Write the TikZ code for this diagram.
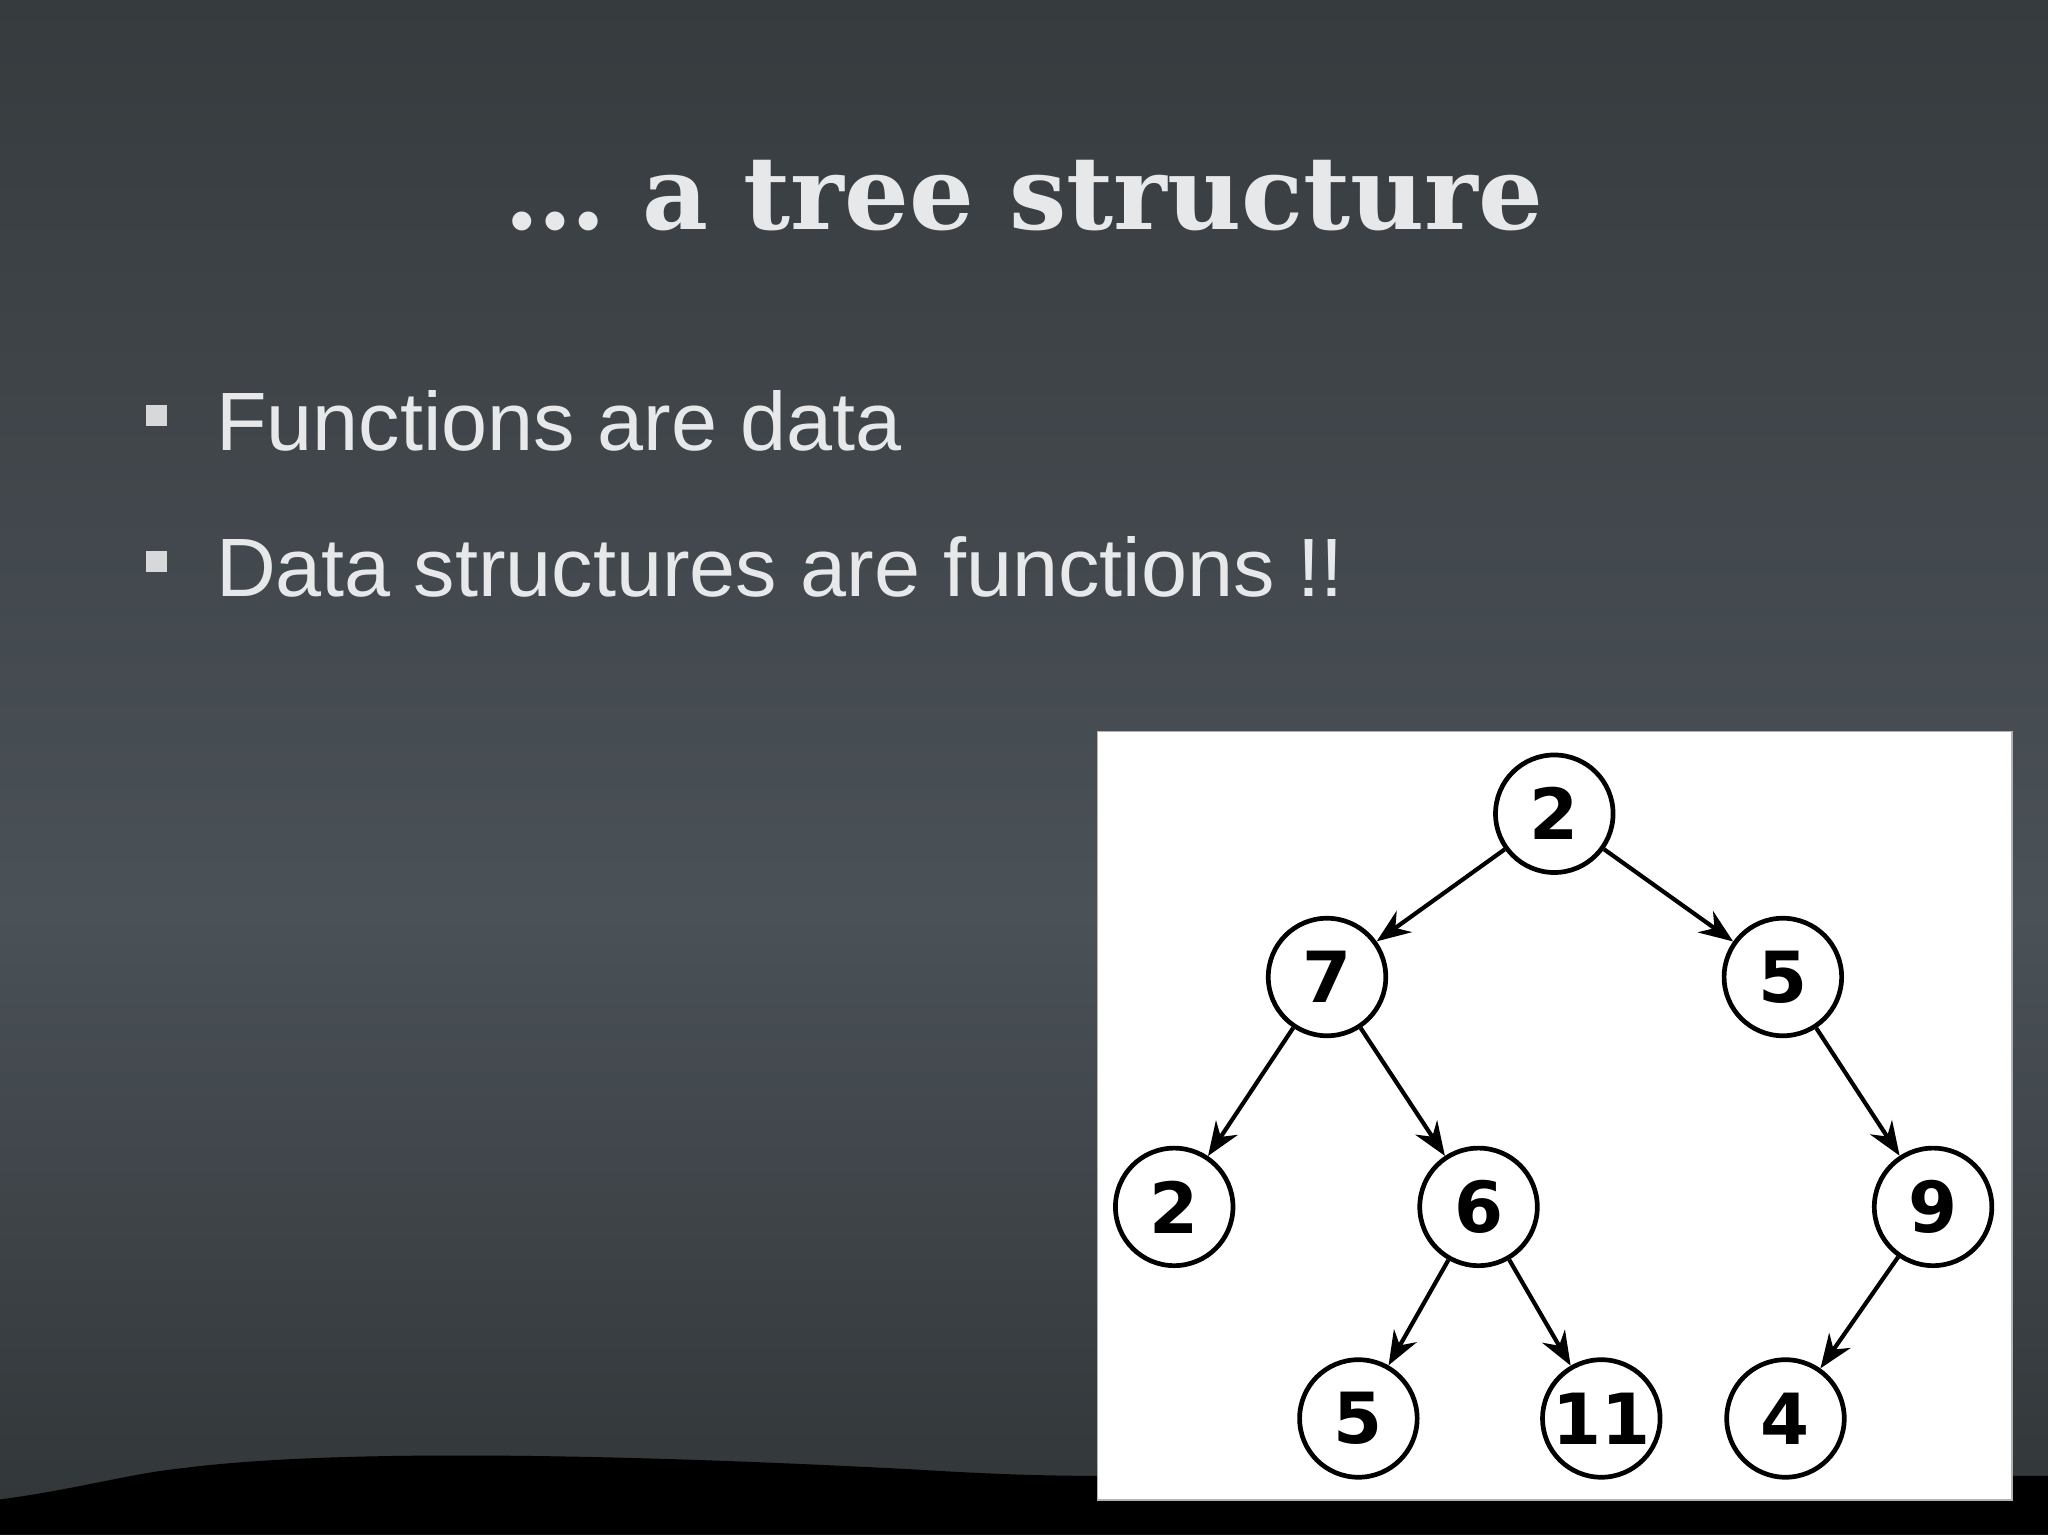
\documentclass[tikz,border=0pt]{standalone}
\usepackage{fontspec}
\setmainfont{Liberation Sans}
\newfontfamily\titlefont{DejaVu Serif}
\newfontfamily\treefont{DejaVu Sans}
\usetikzlibrary{arrows.meta}
\definecolor{bgtop}{HTML}{363B3E}
\definecolor{bgmid}{HTML}{4A5157}
\definecolor{txt}{HTML}{E6E8EA}
\tikzset{
  tn/.style={circle,draw=black,line width=1.8pt,fill=white,minimum size=45pt,inner sep=0pt,font=\treefont\bfseries\fontsize{27}{27}\selectfont},
  edge/.style={line width=1.6pt,-{Stealth[length=13pt,width=10pt]}},
  bullettext/.style={anchor=base west,inner sep=0pt,text=txt,font=\fontsize{31.7}{36}\selectfont}
}
\begin{document}
\begin{tikzpicture}[x=0.5pt,y=-0.5pt]
\useasboundingbox (0,0) rectangle (1568,1175);
\shade[top color=bgtop,bottom color=bgmid] (0,0) rectangle (1568,700);
\shade[top color=bgmid,bottom color=bgtop!90!black] (0,700) rectangle (1568,1175);
\fill[black] (0,1148) .. controls (60,1140) and (100,1128) .. (140,1124) .. controls (250,1110) and (450,1112) .. (700,1125) .. controls (780,1130) and (820,1130) .. (860,1130) -- (1568,1130) -- (1568,1175) -- (0,1175) -- cycle;
\node[anchor=base,text=txt,font=\titlefont\bfseries\fontsize{39}{39}\selectfont] (title) at (784,176) {\ldots\ a tree structure};
\node[fill=txt!85!gray,minimum size=8pt,inner sep=0pt] (b1) at (120,318) {};
\node[fill=txt!85!gray,minimum size=8pt,inner sep=0pt] (b2) at (120,430) {};
\node[bullettext] (t1) at (165,345) {Functions are data};
\node[bullettext] (t2) at (165,457) {Data structures are functions !!};
\node[fill=white,draw=gray!60,minimum width=350pt,minimum height=294pt,anchor=north west,inner sep=0pt] (box) at (840,560) {};
\node[tn] (n2) at (1190,623) {2};
\node[tn] (n7) at (1016,748) {7};
\node[tn] (n5) at (1365,748) {5};
\node[tn] (m2) at (899,924) {2};
\node[tn] (n6) at (1132,924) {6};
\node[tn] (n9) at (1480,924) {9};
\node[tn] (m5) at (1040,1086) {5};
\node[tn] (n11) at (1226,1086) {11};
\node[tn] (n4) at (1367,1086) {4};
\draw[edge] (n2) -- (n7);
\draw[edge] (n2) -- (n5);
\draw[edge] (n7) -- (m2);
\draw[edge] (n7) -- (n6);
\draw[edge] (n5) -- (n9);
\draw[edge] (n6) -- (m5);
\draw[edge] (n6) -- (n11);
\draw[edge] (n9) -- (n4);
\end{tikzpicture}
\end{document}
